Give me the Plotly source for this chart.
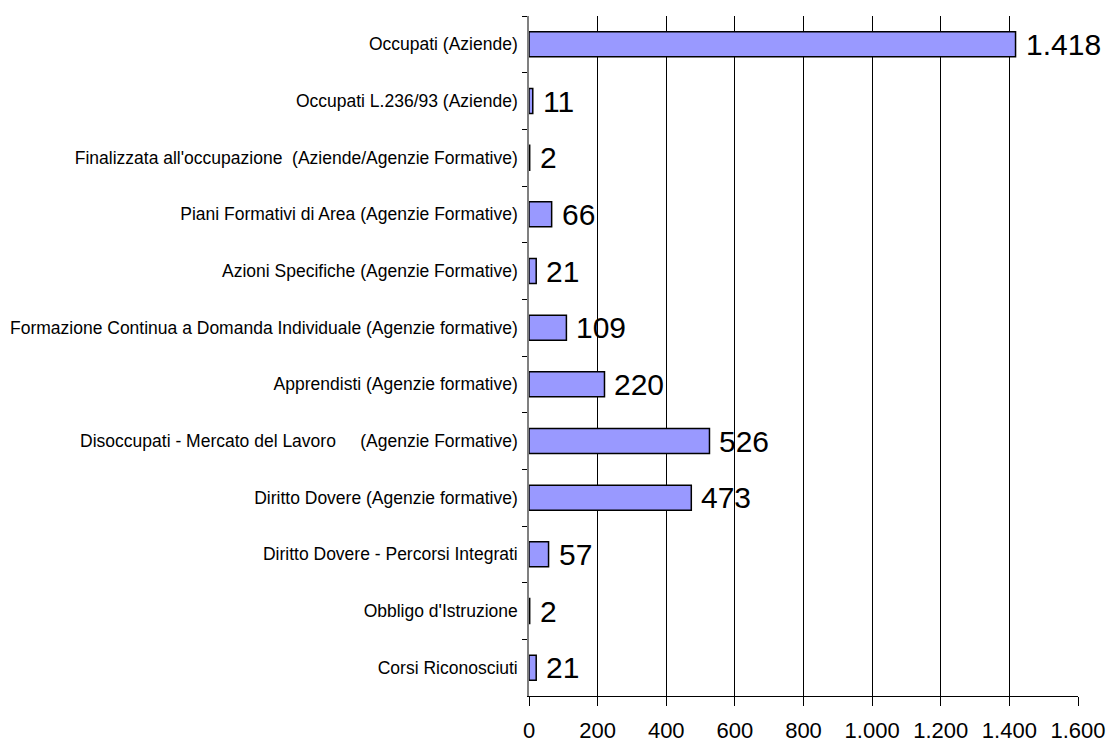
import plotly.graph_objects as go

# Categories listed top to bottom
categories = [
    "Occupati (Aziende)",
    "Occupati L.236/93 (Aziende)",
    "Finalizzata all'occupazione\u00a0 (Aziende/Agenzie Formative)",
    "Piani Formativi di Area (Agenzie Formative)",
    "Azioni Specifiche (Agenzie Formative)",
    "Formazione Continua a Domanda Individuale (Agenzie formative)",
    "Apprendisti (Agenzie formative)",
    "Disoccupati - Mercato del Lavoro\u00a0\u00a0\u00a0\u00a0 (Agenzie Formative)",
    "Diritto Dovere (Agenzie formative)",
    "Diritto Dovere - Percorsi Integrati",
    "Obbligo d'Istruzione",
    "Corsi Riconosciuti",
]
values = [1418, 11, 2, 66, 21, 109, 220, 526, 473, 57, 2, 21]
x_ticks = [0, 200, 400, 600, 800, 1000, 1200, 1400, 1600]

FONT = "Liberation Sans, Arial, sans-serif"

fig = go.Figure(
    go.Bar(
        x=values,
        y=categories,
        orientation="h",
        marker=dict(color="#9999FF", line=dict(color="#000000", width=1.5)),
        hoverinfo="x+y",
    )
)

# Value labels just past the end of each bar
for cat, val in zip(categories, values):
    fig.add_annotation(
        x=val,
        y=cat,
        text=f"{val:,}".replace(",", "."),
        showarrow=False,
        xanchor="left",
        yanchor="middle",
        xshift=8,
        font=dict(family=FONT, size=30, color="#000000"),
    )

fig.update_layout(
    width=1112,
    height=744,
    margin=dict(l=529, r=34, t=16, b=48),
    paper_bgcolor="#FFFFFF",
    plot_bgcolor="#FFFFFF",
    separators=",.",
    bargap=0.56,
    showlegend=False,
    font=dict(family=FONT, color="#000000"),
    xaxis=dict(
        range=[0, 1600],
        tickvals=x_ticks,
        tickformat=",d",
        automargin=False,
        showgrid=True,
        gridcolor="#000000",
        gridwidth=1,
        zeroline=False,
        showline=True,
        linecolor="#000000",
        linewidth=1,
        ticks="outside",
        ticklen=9,
        tickcolor="#000000",
        tickfont=dict(family=FONT, size=22, color="#000000"),
        ticklabelstandoff=6,
        fixedrange=True,
    ),
    yaxis=dict(
        autorange="reversed",
        automargin=False,
        showgrid=False,
        showline=True,
        linecolor="#808080",
        linewidth=1.5,
        ticks="outside",
        tickson="boundaries",
        ticklen=5,
        tickcolor="#000000",
        tickfont=dict(family=FONT, size=17.5, color="#000000"),
        ticklabelstandoff=6,
        fixedrange=True,
    ),
)

fig.write_html("out.html")
